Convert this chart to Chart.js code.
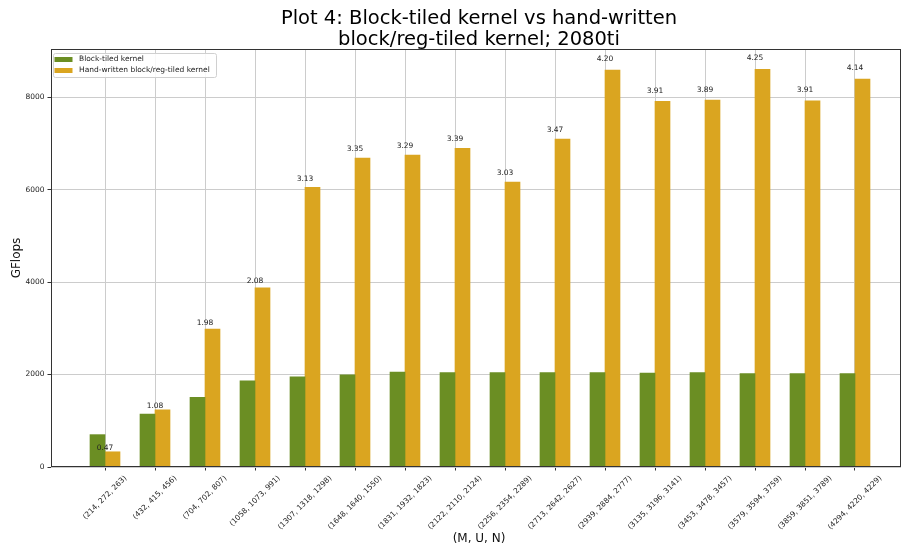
<!DOCTYPE html>
<html>
<head>
<meta charset="utf-8">
<script src="https://cdn.jsdelivr.net/npm/chart.js@4/dist/chart.umd.min.js"></script>
<style>
  html, body { margin: 0; padding: 0; background: #fff; }
  #wrap { width: 902px; height: 551px; }
</style>
</head>
<body>
<div id="wrap"><canvas id="plot" width="902" height="551"></canvas></div>
<script>
const sizes = [
  '(214, 272, 263)', '(432, 415, 456)', '(704, 702, 807)', '(1058, 1073, 991)',
  '(1307, 1318, 1298)', '(1648, 1640, 1550)', '(1831, 1932, 1823)', '(2122, 2110, 2124)',
  '(2256, 2354, 2289)', '(2713, 2642, 2627)', '(2939, 2884, 2777)', '(3135, 3196, 3141)',
  '(3453, 3478, 3457)', '(3579, 3594, 3759)', '(3859, 3851, 3789)', '(4294, 4220, 4229)'
];
const blockTiled = [700, 1145, 1507, 1866, 1950, 1995, 2055, 2040, 2040, 2040, 2040, 2030, 2040, 2022, 2022, 2022];
const handWritten = [329, 1237, 2984, 3877, 6050, 6683, 6746, 6890, 6162, 7092, 8584, 7907, 7935, 8599, 7921, 8389];
const speedups = ['0.47', '1.08', '1.98', '2.08', '3.13', '3.35', '3.29', '3.39', '3.03', '3.47', '4.20', '3.91', '3.89', '4.25', '3.91', '4.14'];
const yTicks = [0, 2000, 4000, 6000, 8000];

const GREEN = '#6b8e23';
const GOLD = '#daa520';
const FONT = '"DejaVu Sans", sans-serif';

// bars sit either side of the category tick
const greenPts = blockTiled.map((v, i) => ({ x: i - 0.15, y: v }));
const goldPts = handWritten.map((v, i) => ({ x: i + 0.15, y: v }));

const decorations = {
  id: 'decorations',
  afterDatasetsDraw(chart) {
    const { ctx, chartArea: a, scales: { x, y } } = chart;
    ctx.save();

    // speedup labels, placed slightly above the gold bar (2% of its height)
    ctx.fillStyle = '#222';
    ctx.font = '7.5px ' + FONT;
    ctx.textAlign = 'center';
    ctx.textBaseline = 'alphabetic';
    speedups.forEach((s, i) => {
      ctx.fillText(s, x.getPixelForValue(i), y.getPixelForValue(handWritten[i] * 1.02) - 1);
    });

    // frame
    ctx.strokeStyle = '#333';
    ctx.lineWidth = 1;
    ctx.strokeRect(Math.round(a.left) + 0.5, Math.round(a.top) + 0.5,
      Math.round(a.right - a.left) - 1, Math.round(a.bottom - a.top) - 1);

    // x tick labels, rotated 45deg, centred under the tick
    ctx.font = '7.5px ' + FONT;
    ctx.fillStyle = '#222';
    const c = Math.SQRT1_2;
    sizes.forEach((lab, i) => {
      const px = x.getPixelForValue(i);
      const L = ctx.measureText(lab).width;
      const h = 8.5;
      const cy = a.bottom + 7 + (L + h) * c / 2;
      ctx.save();
      ctx.translate(px, cy);
      ctx.rotate(-Math.PI / 4);
      ctx.textAlign = 'center';
      ctx.textBaseline = 'middle';
      ctx.fillText(lab, 0, 0);
      ctx.restore();
    });

    // axis titles
    ctx.font = '12px ' + FONT;
    ctx.fillStyle = '#111';
    ctx.textAlign = 'center';
    ctx.textBaseline = 'middle';
    ctx.fillText('(M, U, N)', (a.left + a.right) / 2 + 3, 539);
    ctx.save();
    ctx.translate(17, (a.top + a.bottom) / 2);
    ctx.rotate(-Math.PI / 2);
    ctx.fillText('GFlops', 0, 0);
    ctx.restore();

    // title
    ctx.font = '19.5px ' + FONT;
    ctx.fillStyle = '#000';
    ctx.textBaseline = 'alphabetic';
    ctx.fillText('Plot 4: Block-tiled kernel vs hand-written', 479, 24);
    ctx.fillText('block/reg-tiled kernel; 2080ti', 479, 45);

    // legend
    const lx = 53.5, ly = 53.5, lw = 163, lh = 24;
    ctx.fillStyle = 'rgba(255,255,255,0.85)';
    ctx.strokeStyle = '#d0d0d0';
    ctx.beginPath();
    ctx.roundRect(lx, ly, lw, lh, 2);
    ctx.fill();
    ctx.stroke();
    const items = [['Block-tiled kernel', GREEN], ['Hand-written block/reg-tiled kernel', GOLD]];
    ctx.font = '7.5px ' + FONT;
    ctx.textAlign = 'left';
    ctx.textBaseline = 'middle';
    items.forEach(([text, col], k) => {
      const cy = 59.5 + k * 11;
      ctx.fillStyle = col;
      ctx.fillRect(54.5, cy - 2.5, 18, 5);
      ctx.fillStyle = '#222';
      ctx.fillText(text, 79, cy);
    });

    ctx.restore();
  }
};

new Chart(document.getElementById('plot'), {
  type: 'bar',
  data: {
    datasets: [
      { label: 'Block-tiled kernel', data: greenPts, backgroundColor: GREEN, barThickness: 15, grouped: false },
      { label: 'Hand-written block/reg-tiled kernel', data: goldPts, backgroundColor: GOLD, barThickness: 15, grouped: false }
    ]
  },
  options: {
    responsive: false,
    animation: false,
    layout: { padding: { top: 49, right: 1, left: 0, bottom: 0 } },
    plugins: { legend: { display: false }, tooltip: { enabled: false }, title: { display: false } },
    scales: {
      x: {
        type: 'linear',
        offset: false,
        min: -1.08,
        max: 15.92,
        afterBuildTicks: (s) => { s.ticks = sizes.map((_, i) => ({ value: i })); },
        afterFit: (s) => { s.height = 84; },
        ticks: { display: false },
        grid: { color: '#cccccc', lineWidth: 1, tickLength: 3.5, tickColor: '#333', offset: false },
        border: { display: false }
      },
      y: {
        min: 0,
        max: 9040,
        afterBuildTicks: (s) => { s.ticks = yTicks.map((v) => ({ value: v })); },
        afterFit: (s) => { s.width = 51; },
        ticks: { color: '#222', font: { family: FONT, size: 7.5 }, padding: 3, callback: (v) => String(v) },
        grid: { color: '#cccccc', lineWidth: 1, tickLength: 3.5, tickColor: '#333' },
        border: { display: false }
      }
    }
  },
  plugins: [decorations]
});
</script>
</body>
</html>
